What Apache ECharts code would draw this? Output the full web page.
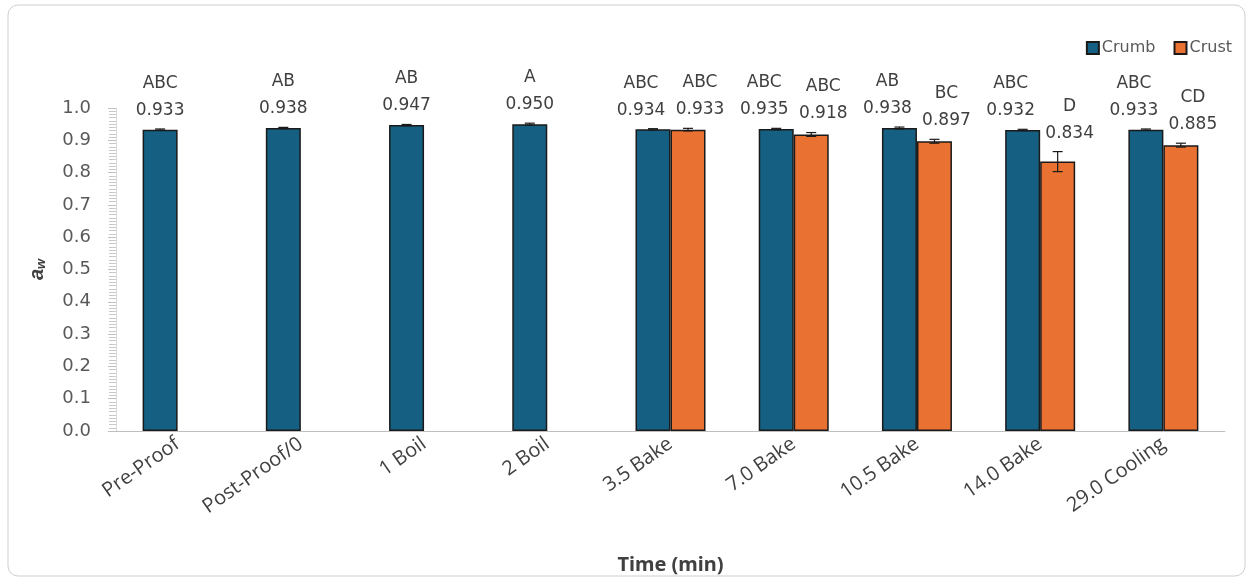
<!DOCTYPE html>
<html>
<head>
<meta charset="utf-8">
<script src="https://cdn.jsdelivr.net/npm/echarts@6/dist/echarts.min.js"></script>
<style>
  html, body { margin: 0; padding: 0; background: #fff; }
  #main { width: 1253px; height: 580px; }
</style>
</head>
<body>
<div id="main"></div>
<script>
// data
var categories = ['Pre-Proof', 'Post-Proof/0', '1 Boil', '2 Boil', '3.5 Bake', '7.0 Bake', '10.5 Bake', '14.0 Bake', '29.0 Cooling'];
var crumbMean = [0.933, 0.938, 0.947, 0.950, 0.934, 0.935, 0.938, 0.932, 0.933];
var crumbSd = [0.002, 0.002, 0.002, 0.003, 0.002, 0.002, 0.003, 0.002, 0.002];
var crumbGroup = ['ABC', 'AB', 'AB', 'A', 'ABC', 'ABC', 'AB', 'ABC', 'ABC'];
var crustMean = [null, null, null, null, 0.933, 0.918, 0.897, 0.834, 0.885];
var crustSd = [null, null, null, null, 0.004, 0.006, 0.006, 0.031, 0.006];
var crustGroup = [null, null, null, null, 'ABC', 'ABC', 'BC', 'D', 'CD'];
var yTicks = [0, 0.1, 0.2, 0.3, 0.4, 0.5, 0.6, 0.7, 0.8, 0.9, 1.0];

var BAR_W = 35;
var TEXT = '#404040';
var NUM_FONT = '"DejaVu Sans", Verdana, sans-serif';

function errorSeries(name, means, sds, groups, side) {
  var rows = [];
  means.forEach(function (m, i) {
    if (m != null) rows.push([i, m, sds[i]]);
  });
  return {
    type: 'custom',
    name: name,
    z: 5,
    data: rows,
    encode: { x: 0, y: 1 },
    renderItem: function (params, api) {
      var i = api.value(0), m = api.value(1), s = api.value(2);
      var paired = crumbMean[i] != null && crustMean[i] != null;
      var hi = api.coord([i, m + s]);
      var lo = api.coord([i, m - s]);
      var x = hi[0] + side * BAR_W / 2;
      var lx = x + (paired ? side * 12 : 0);
      var ls = { stroke: '#1a1a1a', lineWidth: 1.2 };
      return {
        type: 'group',
        children: [
          { type: 'line', shape: { x1: x, y1: hi[1], x2: x, y2: lo[1] }, style: ls },
          { type: 'line', shape: { x1: x - 5, y1: hi[1], x2: x + 5, y2: hi[1] }, style: ls },
          { type: 'line', shape: { x1: x - 5, y1: lo[1], x2: x + 5, y2: lo[1] }, style: ls },
          {
            type: 'text',
            style: {
              text: groups[i] + '\n' + m.toFixed(3),
              x: lx, y: hi[1] - 5,
              align: 'center', verticalAlign: 'bottom',
              font: '17px ' + NUM_FONT,
              lineHeight: 27,
              fill: TEXT
            }
          }
        ]
      };
    }
  };
}

var chart = echarts.init(document.getElementById('main'), null, { renderer: 'canvas' });

chart.setOption({
  animation: false,
  backgroundColor: '#fff',
  graphic: [{
    type: 'rect',
    shape: { x: 8, y: 5, width: 1237, height: 571, r: 10 },
    style: { fill: 'none', stroke: '#cfcfcf', lineWidth: 1 },
    silent: true
  }],
  legend: {
    data: ['Crumb', 'Crust'],
    top: 35,
    right: 16,
    itemWidth: 12,
    itemHeight: 12,
    itemGap: 18,
    icon: 'rect',
    textStyle: { fontSize: 16, color: '#595959', fontFamily: NUM_FONT, padding: [0, 0, 0, -2] }
  },
  grid: { left: 116, right: 28, top: 108, bottom: 149, outerBoundsMode: 'none' },
  xAxis: {
    type: 'category',
    data: categories,
    name: 'Time (min)',
    nameLocation: 'middle',
    nameGap: 124,
    nameTextStyle: { fontSize: 20, fontWeight: 'bold', color: TEXT, fontFamily: '"Noto Sans", sans-serif' },
    axisLine: { lineStyle: { color: '#bfbfbf', width: 1 } },
    axisTick: { alignWithLabel: true, length: 5, lineStyle: { color: '#bfbfbf' } },
    axisLabel: {
      rotate: 35,
      margin: 11,
      fontSize: 20,
      color: TEXT,
      fontFamily: '"Open Sans", sans-serif'
    }
  },
  yAxis: {
    type: 'value',
    min: yTicks[0],
    max: yTicks[yTicks.length - 1],
    interval: 0.1,
    name: '{a|a}{w|w}',
    nameLocation: 'middle',
    nameGap: 68,
    nameRotate: 90,
    nameTextStyle: {
      rich: {
        a: { fontSize: 20, fontStyle: 'italic', fontWeight: 'bold', color: TEXT, fontFamily: 'Liberation Sans, Arial' },
        w: { fontSize: 13, fontStyle: 'italic', fontWeight: 'bold', color: TEXT, verticalAlign: 'bottom', padding: [9, 0, 0, 0], fontFamily: 'Liberation Sans, Arial' }
      }
    },
    splitLine: { show: false },
    axisLine: { show: true, lineStyle: { color: '#d9d9d9' } },
    axisTick: { show: true, length: 8, lineStyle: { color: '#bfbfbf' } },
    minorTick: { show: true, splitNumber: 10, length: 7, lineStyle: { color: '#c8c8c8' } },
    axisLabel: {
      margin: 25,
      fontSize: 18,
      color: '#595959',
      fontFamily: NUM_FONT,
      formatter: function (v) { return v.toFixed(1); }
    }
  },
  series: [
    {
      name: 'Crumb',
      type: 'bar',
      data: crumbMean,
      barWidth: BAR_W,
      barGap: '0%',
      itemStyle: { color: '#156082', borderColor: '#1a1a1a', borderWidth: 1.5 }
    },
    {
      name: 'Crust',
      type: 'bar',
      data: crustMean.map(function (v) { return v == null ? '-' : v; }),
      barWidth: BAR_W,
      barGap: '0%',
      itemStyle: { color: '#E97132', borderColor: '#1a1a1a', borderWidth: 1.5 }
    },
    errorSeries('crumbErr', crumbMean, crumbSd, crumbGroup, -1),
    errorSeries('crustErr', crustMean, crustSd, crustGroup, 1)
  ]
});
</script>
</body>
</html>
